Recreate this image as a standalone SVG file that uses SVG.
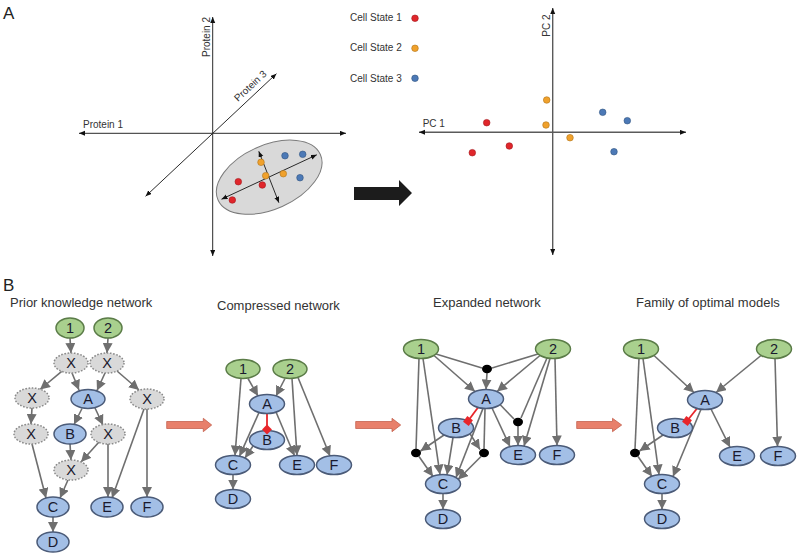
<svg xmlns="http://www.w3.org/2000/svg" width="800" height="556" viewBox="0 0 800 556">
<style>
.ax{stroke:#2a2a2a;stroke-width:1;fill:none}
.ax2{stroke:#5a5a5a;stroke-width:1.4;fill:none}
.lbl{font-family:"Liberation Sans",Arial,sans-serif;font-size:10px;fill:#333}
.pl{font-family:"Liberation Sans",Arial,sans-serif;font-size:17px;fill:#222}
.ttl{font-family:"Liberation Sans",Arial,sans-serif;font-size:13px;fill:#333}
.red{fill:#e0262b;stroke:#a21a1e;stroke-width:0.6}
.org{fill:#f0a12c;stroke:#b0731a;stroke-width:0.6}
.blu{fill:#4c79b6;stroke:#30547f;stroke-width:0.6}
.g ellipse{fill:#a9d08e;stroke:#5b7c48;stroke-width:1.5}
.b ellipse{fill:#a3bfe6;stroke:#4b5b78;stroke-width:1.5}
.x ellipse{fill:#d9d9d9;stroke:#8a8a8a;stroke-width:1.5;stroke-dasharray:1.6 1.6}
.n text{font-family:"Liberation Sans",Arial,sans-serif;font-size:14.5px;fill:#1a1a2e;text-anchor:middle}
.dot{fill:#000}
.e{stroke:#6f6f6f;stroke-width:1.6;fill:none}
.ea{stroke:#6f6f6f;stroke-width:1.6;fill:none;marker-end:url(#ah)}
.inh{stroke:#e8262b;stroke-width:1.8;fill:none}
.sq{fill:#e8262b}
.sal{fill:#e8806b;stroke:#c4624f;stroke-width:0.8}
</style>
<defs>
<marker id="ah" markerUnits="userSpaceOnUse" markerWidth="11" markerHeight="10" refX="10" refY="5" orient="auto">
<path d="M0,0 L10,5 L0,10 z" fill="#6f6f6f"/>
</marker>
<marker id="sa" markerUnits="userSpaceOnUse" markerWidth="8" markerHeight="8" refX="6" refY="2.5" orient="auto-start-reverse">
<path d="M0,0 L6,2.5 L0,5 z" fill="#111"/>
</marker>
</defs>
<rect width="800" height="556" fill="#fff"/>

<!-- Panel A -->
<text class="pl" x="3" y="18.5">A</text>
<g id="plot-left">
<line class="ax" x1="212.7" y1="256" x2="212.7" y2="17" marker-start="url(#sa)" marker-end="url(#sa)"/>
<line class="ax" x1="79" y1="133.3" x2="346" y2="133.3" marker-start="url(#sa)" marker-end="url(#sa)"/>
<line class="ax" x1="145.6" y1="196.3" x2="276.4" y2="73.7" marker-start="url(#sa)" marker-end="url(#sa)"/>
<text class="lbl" x="83" y="127.5">Protein 1</text>
<text class="lbl" transform="translate(209.5,57) rotate(-90)">Protein 2</text>
<text class="lbl" transform="translate(238,102) rotate(-43)">Protein 3</text>
<ellipse cx="269.2" cy="177.2" rx="56" ry="32" transform="rotate(-24 269.2 177.2)" fill="#d9d9d9" stroke="#7a7a7a" stroke-width="1"/>
<line class="ax" x1="221.5" y1="199.2" x2="316.8" y2="154.8" marker-start="url(#sa)" marker-end="url(#sa)"/>
<line class="ax" x1="258.8" y1="151.3" x2="278.9" y2="202.7" marker-start="url(#sa)" marker-end="url(#sa)"/>
<circle class="red" cx="238.3" cy="181.7" r="3.3"/>
<circle class="red" cx="262.3" cy="185" r="3.3"/>
<circle class="red" cx="232.3" cy="200" r="3.3"/>
<circle class="org" cx="261" cy="162.3" r="3.3"/>
<circle class="org" cx="265.7" cy="175.7" r="3.3"/>
<circle class="org" cx="283.3" cy="173.7" r="3.3"/>
<circle class="blu" cx="285" cy="155.7" r="3.3"/>
<circle class="blu" cx="302.7" cy="154.3" r="3.3"/>
<circle class="blu" cx="300" cy="177.7" r="3.3"/>
</g>
<g id="legend">
<text class="lbl" x="350" y="20.5">Cell State 1</text>
<circle class="red" cx="415" cy="18.3" r="3.3"/>
<text class="lbl" x="350" y="50.5">Cell State 2</text>
<circle class="org" cx="415" cy="48.3" r="3.3"/>
<text class="lbl" x="350" y="81.5">Cell State 3</text>
<circle class="blu" cx="415" cy="78.3" r="3.3"/>
</g>
<path id="big-arrow" d="M354,187 H399 V180 L412,193 L399,206 V200 H354 Z" fill="#1c1c1c"/>
<g id="plot-right">
<line class="ax2" x1="552.7" y1="255" x2="552.7" y2="8" marker-start="url(#sa)" marker-end="url(#sa)"/>
<line class="ax2" x1="419" y1="132.3" x2="686" y2="132.3" marker-start="url(#sa)" marker-end="url(#sa)"/>
<text class="lbl" x="422.7" y="126.5">PC 1</text>
<text class="lbl" transform="translate(549.5,36.7) rotate(-90)">PC 2</text>
<circle class="red" cx="486.7" cy="122.7" r="3.3"/>
<circle class="red" cx="509.3" cy="146" r="3.3"/>
<circle class="red" cx="472.3" cy="152.7" r="3.3"/>
<circle class="org" cx="546.7" cy="100" r="3.3"/>
<circle class="org" cx="546" cy="125" r="3.3"/>
<circle class="org" cx="570" cy="137.7" r="3.3"/>
<circle class="blu" cx="602.7" cy="112.3" r="3.3"/>
<circle class="blu" cx="627.3" cy="120.7" r="3.3"/>
<circle class="blu" cx="614" cy="151.7" r="3.3"/>
</g>

<!-- Panel B -->
<text class="pl" x="3" y="290.5">B</text>
<text class="ttl" x="10" y="306.5">Prior knowledge network</text>
<text class="ttl" x="217" y="310">Compressed network</text>
<text class="ttl" x="433" y="306.5">Expanded network</text>
<text class="ttl" x="636" y="306.5">Family of optimal models</text>

<g id="step-arrows">
<path class="sal" d="M166.7,421.5 H203.3 V418.3 L211.7,425 L203.3,431.7 V428.5 H166.7 Z"/>
<path class="sal" d="M355.7,421.5 H392 V418.3 L400.7,425 L392,431.7 V428.5 H355.7 Z"/>
<path class="sal" d="M576.7,421.5 H612.5 V418.3 L621.7,425 L612.5,431.7 V428.5 H576.7 Z"/>
</g>

<g id="connectors">
<!-- prior -->
<line class="ea" x1="70" y1="338" x2="71" y2="353"/>
<line class="ea" x1="108" y1="338" x2="107" y2="353"/>
<line class="ea" x1="61.7" y1="371.4" x2="40" y2="389.5"/>
<line class="ea" x1="72" y1="373" x2="79" y2="390"/>
<line class="ea" x1="105" y1="373" x2="97" y2="390.5"/>
<line class="ea" x1="117" y1="371" x2="139" y2="390"/>
<line class="ea" x1="32" y1="408" x2="31" y2="424"/>
<line class="ea" x1="82" y1="408.5" x2="74" y2="424.5"/>
<line class="ea" x1="95" y1="408" x2="103" y2="425"/>
<line class="ea" x1="32" y1="444" x2="46" y2="498"/>
<line class="ea" x1="70" y1="444" x2="71" y2="460"/>
<line class="ea" x1="99" y1="442" x2="81" y2="462"/>
<line class="ea" x1="68" y1="480" x2="60" y2="498"/>
<line class="ea" x1="108" y1="444" x2="108" y2="497"/>
<line class="ea" x1="144" y1="409" x2="112" y2="498"/>
<line class="ea" x1="147" y1="409" x2="147" y2="497"/>
<line class="ea" x1="53" y1="517" x2="53" y2="532"/>
<!-- compressed -->
<line class="ea" x1="248" y1="378.5" x2="258" y2="396"/>
<line class="ea" x1="285" y1="378.5" x2="276" y2="396"/>
<line class="ea" x1="241" y1="378.5" x2="235" y2="455.5"/>
<line class="ea" x1="259" y1="412.5" x2="239.5" y2="456.2"/>
<line class="ea" x1="253" y1="446" x2="245" y2="458"/>
<line class="ea" x1="276" y1="412" x2="294.5" y2="455.7"/>
<line class="ea" x1="292" y1="378.5" x2="297" y2="455.5"/>
<line class="ea" x1="298" y1="377.5" x2="330" y2="456"/>
<line class="ea" x1="233" y1="474.5" x2="233" y2="489.5"/>
<line class="inh" x1="267" y1="413.5" x2="267" y2="428"/>
<!-- expanded -->
<line class="e" x1="436" y1="354" x2="482" y2="368"/>
<line class="e" x1="538" y1="354" x2="492" y2="368"/>
<line class="ea" x1="487" y1="373" x2="486" y2="389.5"/>
<line class="ea" x1="434" y1="355.5" x2="475" y2="391.5"/>
<line class="ea" x1="540" y1="355.5" x2="497" y2="391.5"/>
<line class="e" x1="419" y1="358.5" x2="416" y2="449"/>
<line class="ea" x1="444" y1="435" x2="420.5" y2="451"/>
<line class="ea" x1="419" y1="456.5" x2="433" y2="476.5"/>
<line class="ea" x1="423" y1="358.5" x2="440" y2="474.6"/>
<line class="ea" x1="453" y1="437.5" x2="447" y2="474.8"/>
<line class="ea" x1="483" y1="408.4" x2="456" y2="477.5"/>
<line class="ea" x1="470" y1="433.7" x2="480" y2="449.5"/>
<line class="e" x1="485" y1="408.5" x2="484" y2="449"/>
<line class="ea" x1="481" y1="456.5" x2="458" y2="479.5"/>
<line class="ea" x1="492" y1="408" x2="510" y2="446.6"/>
<line class="e" x1="500" y1="404.5" x2="514" y2="419"/>
<line class="e" x1="547" y1="358" x2="521" y2="418"/>
<line class="ea" x1="518" y1="426" x2="518" y2="445.5"/>
<line class="ea" x1="550" y1="358.4" x2="524" y2="446"/>
<line class="ea" x1="555" y1="358.5" x2="557" y2="445.5"/>
<line class="ea" x1="443" y1="493.5" x2="443" y2="509.5"/>
<line class="inh" x1="478" y1="407.5" x2="468" y2="421"/>
<!-- family -->
<line class="ea" x1="654" y1="355.5" x2="694" y2="392.5"/>
<line class="ea" x1="761" y1="355.5" x2="716" y2="392.5"/>
<line class="e" x1="639" y1="358.5" x2="635" y2="449"/>
<line class="ea" x1="663" y1="435" x2="639.5" y2="451"/>
<line class="ea" x1="638" y1="456.5" x2="652" y2="476.5"/>
<line class="ea" x1="643" y1="358.5" x2="659" y2="474.6"/>
<line class="ea" x1="701" y1="409.3" x2="673" y2="476.5"/>
<line class="ea" x1="711" y1="409" x2="730" y2="447.2"/>
<line class="ea" x1="775" y1="358.5" x2="777.5" y2="446.5"/>
<line class="ea" x1="662" y1="493.5" x2="662" y2="509.5"/>
<line class="inh" x1="697" y1="408.5" x2="687" y2="421"/>
</g>

<!-- prior nodes -->
<g id="p-1" class="n g"><ellipse cx="70" cy="328" rx="14" ry="10"/><text x="70" y="333.2">1</text></g>
<g id="p-2" class="n g"><ellipse cx="108" cy="328" rx="14" ry="10"/><text x="108" y="333.2">2</text></g>
<g id="p-x1" class="n x"><ellipse cx="71" cy="363" rx="17" ry="10"/><text x="71" y="368.2">X</text></g>
<g id="p-x2" class="n x"><ellipse cx="107" cy="363" rx="17" ry="10"/><text x="107" y="368.2">X</text></g>
<g id="p-x3" class="n x"><ellipse cx="32" cy="398" rx="17" ry="10"/><text x="32" y="403.2">X</text></g>
<g id="p-a" class="n b"><ellipse cx="88" cy="399" rx="17" ry="9.5"/><text x="88" y="404.2">A</text></g>
<g id="p-x4" class="n x"><ellipse cx="147" cy="399" rx="17" ry="10"/><text x="147" y="404.2">X</text></g>
<g id="p-x5" class="n x"><ellipse cx="31" cy="434" rx="17" ry="10"/><text x="31" y="439.2">X</text></g>
<g id="p-b" class="n b"><ellipse cx="70" cy="434" rx="16" ry="10"/><text x="70" y="439.2">B</text></g>
<g id="p-x6" class="n x"><ellipse cx="108" cy="434" rx="17" ry="10"/><text x="108" y="439.2">X</text></g>
<g id="p-x7" class="n x"><ellipse cx="71" cy="470" rx="17" ry="10"/><text x="71" y="475.2">X</text></g>
<g id="p-c" class="n b"><ellipse cx="53" cy="507" rx="16" ry="10"/><text x="53" y="512.2">C</text></g>
<g id="p-e" class="n b"><ellipse cx="107" cy="507" rx="16" ry="10"/><text x="107" y="512.2">E</text></g>
<g id="p-f" class="n b"><ellipse cx="147" cy="507" rx="16" ry="10"/><text x="147" y="512.2">F</text></g>
<g id="p-d" class="n b"><ellipse cx="53" cy="542" rx="16" ry="10"/><text x="53" y="547.2">D</text></g>

<!-- compressed nodes -->
<g id="c-1" class="n g"><ellipse cx="243" cy="369" rx="17" ry="9.5"/><text x="243" y="374.2">1</text></g>
<g id="c-2" class="n g"><ellipse cx="290" cy="369" rx="17" ry="9.5"/><text x="290" y="374.2">2</text></g>
<g id="c-a" class="n b"><ellipse cx="267" cy="404" rx="17.5" ry="9.5"/><text x="267" y="409.2">A</text></g>
<g id="c-b" class="n b"><ellipse cx="267" cy="440" rx="17.5" ry="9.5"/><text x="267" y="445.2">B</text></g>
<g id="c-c" class="n b"><ellipse cx="233" cy="465" rx="17.5" ry="9.5"/><text x="233" y="470.2">C</text></g>
<g id="c-e" class="n b"><ellipse cx="297" cy="465" rx="17.5" ry="9.5"/><text x="297" y="470.2">E</text></g>
<g id="c-f" class="n b"><ellipse cx="334" cy="465" rx="17.5" ry="9.5"/><text x="334" y="470.2">F</text></g>
<g id="c-d" class="n b"><ellipse cx="233" cy="499" rx="17.5" ry="9.5"/><text x="233" y="504.2">D</text></g>

<!-- expanded nodes -->
<g id="e-1" class="n g"><ellipse cx="421" cy="349" rx="17.5" ry="9.5"/><text x="421" y="354.2">1</text></g>
<g id="e-2" class="n g"><ellipse cx="553" cy="349" rx="17.5" ry="9.5"/><text x="553" y="354.2">2</text></g>
<g id="e-a" class="n b"><ellipse cx="486" cy="399" rx="17.5" ry="9.5"/><text x="486" y="404.2">A</text></g>
<g id="e-b" class="n b"><ellipse cx="456" cy="428" rx="17.5" ry="9.5"/><text x="456" y="433.2">B</text></g>
<g id="e-e" class="n b"><ellipse cx="518" cy="455" rx="17.5" ry="9.5"/><text x="518" y="460.2">E</text></g>
<g id="e-f" class="n b"><ellipse cx="557" cy="455" rx="17.5" ry="9.5"/><text x="557" y="460.2">F</text></g>
<g id="e-c" class="n b"><ellipse cx="443" cy="484" rx="17.5" ry="9.5"/><text x="443" y="489.2">C</text></g>
<g id="e-d" class="n b"><ellipse cx="443" cy="519" rx="17.5" ry="9.5"/><text x="443" y="524.2">D</text></g>
<g id="e-and1"><ellipse class="dot" cx="487" cy="369" rx="5" ry="4.2"/></g>
<g id="e-and2"><ellipse class="dot" cx="518" cy="422" rx="5" ry="4.2"/></g>
<g id="e-and3"><ellipse class="dot" cx="416" cy="453" rx="5" ry="4.2"/></g>
<g id="e-and4"><ellipse class="dot" cx="484" cy="453" rx="5" ry="4.2"/></g>

<!-- family nodes -->
<g id="f-1" class="n g"><ellipse cx="641" cy="349" rx="17.5" ry="9.5"/><text x="641" y="354.2">1</text></g>
<g id="f-2" class="n g"><ellipse cx="774" cy="349" rx="17.5" ry="9.5"/><text x="774" y="354.2">2</text></g>
<g id="f-a" class="n b"><ellipse cx="705" cy="400" rx="17.5" ry="9.5"/><text x="705" y="405.2">A</text></g>
<g id="f-b" class="n b"><ellipse cx="675" cy="428" rx="17.5" ry="9.5"/><text x="675" y="433.2">B</text></g>
<g id="f-e" class="n b"><ellipse cx="737" cy="456" rx="17.5" ry="9.5"/><text x="737" y="461.2">E</text></g>
<g id="f-f" class="n b"><ellipse cx="778" cy="456" rx="17.5" ry="9.5"/><text x="778" y="461.2">F</text></g>
<g id="f-c" class="n b"><ellipse cx="662" cy="484" rx="17.5" ry="9.5"/><text x="662" y="489.2">C</text></g>
<g id="f-d" class="n b"><ellipse cx="662" cy="519" rx="17.5" ry="9.5"/><text x="662" y="524.2">D</text></g>
<g id="f-and1"><ellipse class="dot" cx="635" cy="453" rx="5" ry="4.2"/></g>

<g id="inhibition-heads">
<rect class="sq" x="263.5" y="426" width="7" height="7" transform="rotate(45 267 429.5)"/>
<rect class="sq" x="464.5" y="417.5" width="7" height="7" transform="rotate(37 468 421)"/>
<rect class="sq" x="683.5" y="417.5" width="7" height="7" transform="rotate(37 687 421)"/>
</g>
</svg>
